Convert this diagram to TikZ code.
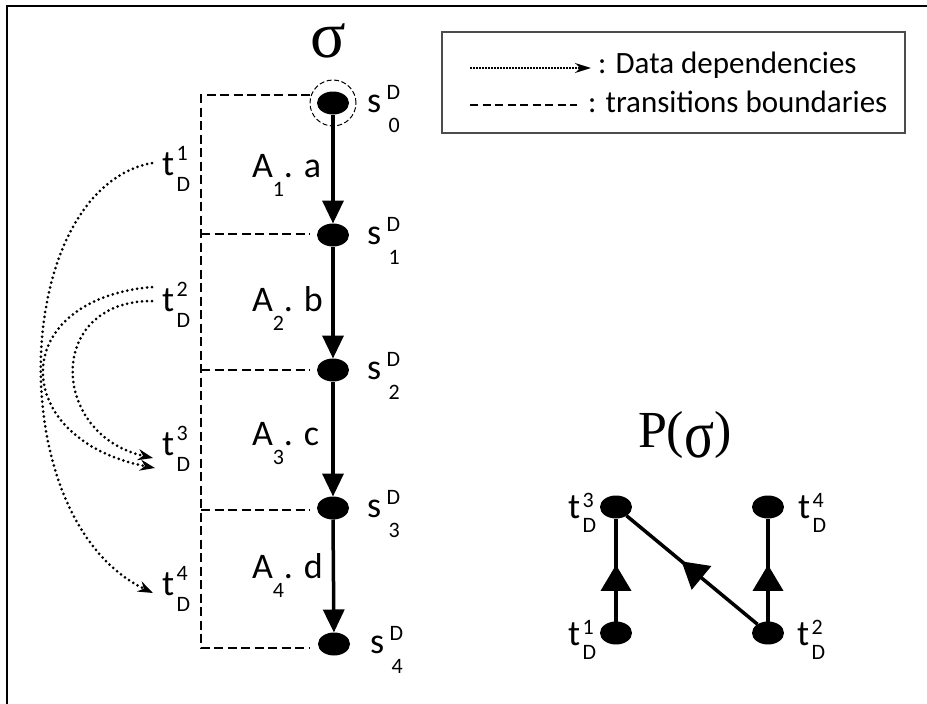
\documentclass[tikz,border=0pt]{standalone}
\usepackage{graphicx}
\usepackage{fontspec}
\setmainfont{Carlito}
\newfontfamily\sigfont{Liberation Serif}
\usetikzlibrary{arrows.meta,shapes.geometric,decorations.markings}
\newcommand\fbig{\fontsize{36}{36}\selectfont}
\newcommand\fsmall{\fontsize{22}{22}\selectfont}
\newcommand\fleg{\fontsize{31}{31}\selectfont}
\newcommand\slab[1]{s\kern5.5pt\rlap{\raisebox{13pt}{\fsmall D}}\kern2pt\raisebox{-20pt}{\fsmall #1}}
\newcommand\tlab[1]{t\kern2.5pt\rlap{\raisebox{15pt}{\fsmall #1}}\raisebox{-16pt}{\fsmall D}}
\newcommand\tlabp[1]{t\kern2.5pt\rlap{\raisebox{11pt}{\fsmall #1}}\raisebox{-14pt}{\fsmall D}}
\newcommand\alab[2]{A\raisebox{-19pt}{\fsmall #1}. #2}
\begin{document}
\begin{tikzpicture}[x=1pt,y=-1pt,
  every node/.style={inner sep=0pt,outer sep=0pt},
  state/.style={ellipse,fill=black,minimum width=32pt,minimum height=23pt},
  flow/.style={line width=3.5pt,-{Triangle[width=21pt,length=23pt]}},
  bound/.style={line width=2.2pt,dash pattern=on 9pt off 4.5pt},
  dep/.style={line width=3pt,line cap=round,dash pattern=on 0pt off 5pt,-{Stealth[length=15pt,width=11pt]}},
  pedge/.style={line width=3.5pt,postaction={decorate},
    decoration={markings,mark=at position #1 with {\arrow{Triangle[width=30pt,length=26pt]}}}},
  lab/.style={anchor=base west,font=\fbig}]
\useasboundingbox (0,0) rectangle (927,704);
% frame
\coordinate (fr1) at (7,704);
\coordinate (fr2) at (7,6);
\coordinate (fr3) at (927,6);
\draw[line width=2.2pt] (fr1) -- (fr2) -- (fr3);

% sigma title
\node[font=\sigfont\fontsize{66}{66}\selectfont] (sigma) at (328,41) {σ};

% states
\node[state] (s0) at (333,103) {};
\node[state] (s1) at (333,235) {};
\node[state] (s2) at (333,370) {};
\node[state] (s3) at (333,508) {};
\node[state] (s4) at (334,644) {};
\node[circle,draw,dash pattern=on 5pt off 2.5pt,line width=1pt,minimum size=46pt] (ring) at (s0) {};

\draw[flow] (s0) -- (s1);
\draw[flow] (s1) -- (s2);
\draw[flow] (s2) -- (s3);
\draw[flow] (s3.south) -- (s4);

% state labels
\node[lab] (ls0) at (367,112) {\slab{0}};
\node[lab] (ls1) at (367,244) {\slab{1}};
\node[lab] (ls2) at (367,379) {\slab{2}};
\node[lab] (ls3) at (367,517) {\slab{3}};
\node[lab] (ls4) at (370,653) {\slab{4}};

% action labels
\node[lab] (la1) at (252,177) {\alab{1}{a}};
\node[lab] (la2) at (252,311) {\alab{2}{b}};
\node[lab] (la3) at (252,445) {\alab{3}{c}};
\node[lab] (la4) at (252,578) {\alab{4}{d}};

% transition boundaries
\coordinate (bt0) at (201,95);  \coordinate (be0) at (310,95);
\coordinate (bt1) at (201,234); \coordinate (be1) at (310,234);
\coordinate (bt2) at (201,370); \coordinate (be2) at (310,370);
\coordinate (bt3) at (201,510); \coordinate (be3) at (310,510);
\coordinate (bt4) at (201,648); \coordinate (be4) at (310,648);
\draw[bound] (be0) -- (bt0) -- (bt4) -- (be4);
\draw[bound] (bt1) -- (be1);
\draw[bound] (bt2) -- (be2);
\draw[bound] (bt3) -- (be3);

% transition labels
\node[lab] (lt1) at (162,175) {\tlab{1}};
\node[lab] (lt2) at (162,311) {\tlab{2}};
\node[lab] (lt3) at (162,455) {\tlab{3}};
\node[lab] (lt4) at (162,595) {\tlab{4}};

% data dependencies
\coordinate (d1s) at (152,163);
\coordinate (d2s) at (152,287);
\coordinate (d2t) at (152,301);
\coordinate (d3a) at (153,458);
\coordinate (d3b) at (155,468);
\coordinate (d4e) at (153,593);
\draw[dep] (d1s) .. controls (10,190) and (0,520) .. (d4e);
\draw[dep] (d2s) .. controls (5,300) and (10,440) .. (d3b);
\draw[dep] (d2t) .. controls (45,301) and (50,435) .. (d3a);

% legend
\node[draw=black!70,line width=1.5pt,minimum width=463pt,minimum height=101pt,anchor=north west] (legend) at (442,32) {};
\coordinate (ldA) at (470,68); \coordinate (ldB) at (591,68);
\draw[line width=1.5pt,dash pattern=on 1.5pt off 1.5pt,-{Stealth[length=16pt,width=10pt]}] (ldA) -- (ldB);
\coordinate (lbA) at (470,105); \coordinate (lbB) at (577,105);
\draw[line width=1.6pt,dash pattern=on 8pt off 4.5pt] (lbA) -- (lbB);
\node[anchor=base west,font=\fleg] (ltx1) at (598,73) {: Data dependencies};
\node[anchor=base west,font=\fleg] (ltx2) at (588,112) {: transitions boundaries};

% P(sigma)
\node[anchor=base west,font=\sigfont\fontsize{52}{52}\selectfont] (psig) at (638,447) {P(\raisebox{-10pt}{\resizebox{30pt}{35pt}{σ}})};
\node[state] (p3) at (616,507) {};
\node[state] (p4) at (768,507) {};
\node[state] (p1) at (616,633) {};
\node[state] (p2) at (768,633) {};
\draw[pedge=0.55] (p1) -- (p3);
\draw[pedge=0.55] (p2) -- (p4);
\draw[pedge=0.58] (p2) -- (p3);
\node[lab] (lp3) at (568,518) {\tlabp{3}};
\node[lab] (lp1) at (568,645) {\tlabp{1}};
\node[lab] (lp4) at (798,518) {\tlabp{4}};
\node[lab] (lp2) at (797,645) {\tlabp{2}};
\end{tikzpicture}
\end{document}
